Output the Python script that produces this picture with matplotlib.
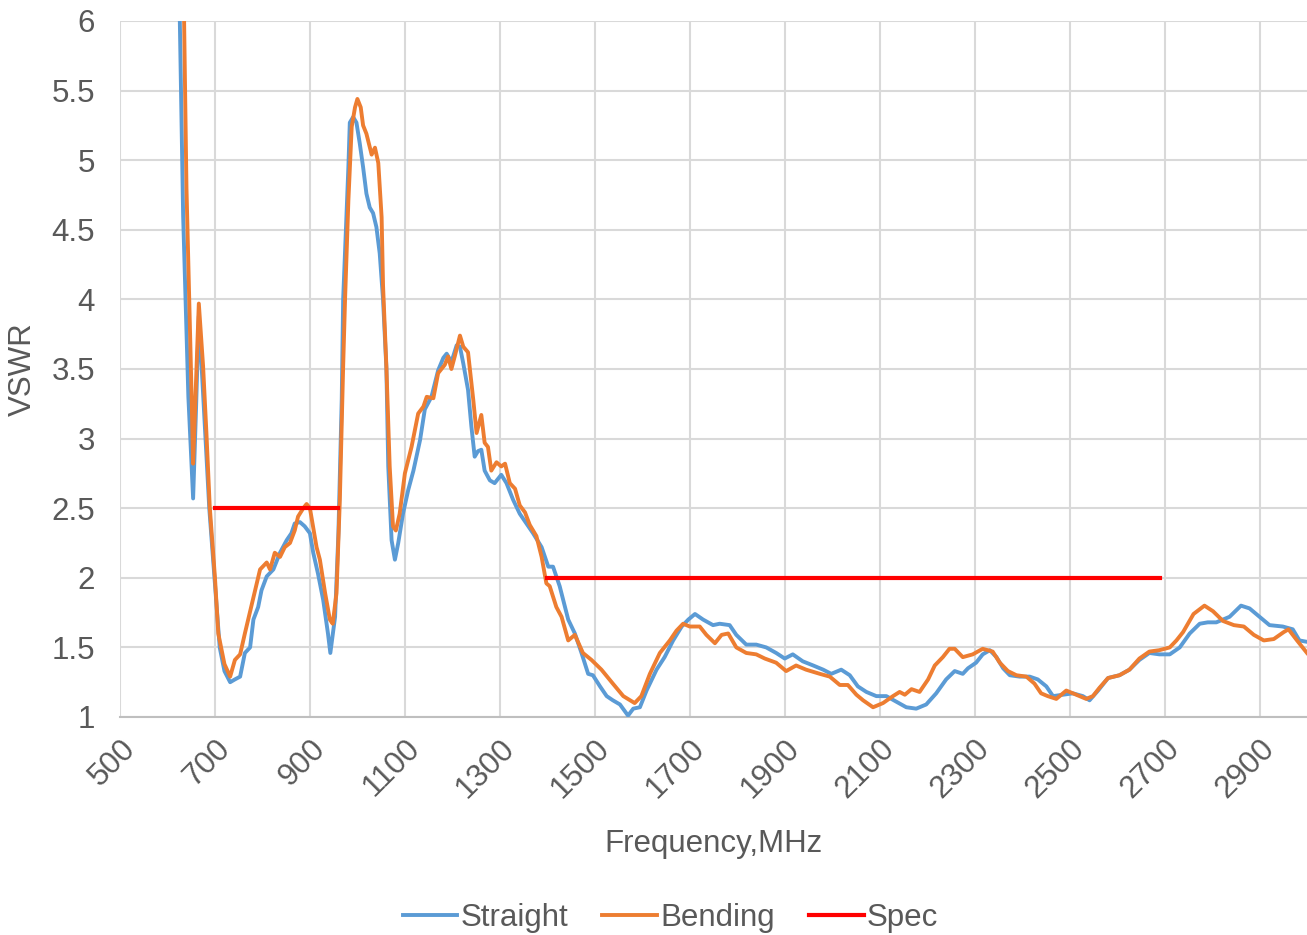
import matplotlib
matplotlib.use("Agg")
import matplotlib.pyplot as plt
import numpy as np

# ---- data ----
straight_f = [615, 626, 633, 644, 654, 660, 666, 673, 680, 688, 700, 710, 720, 732, 742, 753, 763, 774, 781, 791, 798, 809, 823, 837, 851, 861, 868, 879, 889, 900, 907, 917, 928, 938, 943, 953, 960, 967, 970, 981, 984, 991, 998, 1005, 1012, 1019, 1026, 1033, 1040, 1047, 1054, 1061, 1065, 1072, 1079, 1086, 1096, 1107, 1118, 1132, 1142, 1156, 1170, 1181, 1188, 1198, 1209, 1216, 1223, 1233, 1240, 1247, 1254, 1261, 1268, 1279, 1289, 1303, 1314, 1328, 1342, 1356, 1370, 1388, 1402, 1412, 1426, 1444, 1458, 1472, 1486, 1496, 1511, 1525, 1538, 1553, 1570, 1581, 1595, 1609, 1630, 1647, 1665, 1683, 1697, 1711, 1728, 1749, 1763, 1784, 1798, 1819, 1840, 1861, 1882, 1900, 1917, 1938, 1960, 1981, 1998, 2019, 2037, 2054, 2072, 2093, 2114, 2135, 2156, 2177, 2198, 2219, 2240, 2258, 2275, 2286, 2303, 2317, 2332, 2346, 2360, 2374, 2395, 2416, 2433, 2451, 2465, 2486, 2507, 2528, 2542, 2560, 2581, 2605, 2626, 2647, 2668, 2689, 2711, 2732, 2753, 2774, 2791, 2809, 2837, 2861, 2879, 2900, 2921, 2949, 2970, 2984, 3000]
straight_v = [8.0, 6.0, 4.6, 3.3, 2.57, 3.2, 3.88, 3.45, 3.0, 2.5, 1.95, 1.5, 1.33, 1.25, 1.27, 1.29, 1.46, 1.50, 1.70, 1.79, 1.91, 2.01, 2.06, 2.18, 2.27, 2.32, 2.39, 2.40, 2.37, 2.32, 2.18, 2.03, 1.84, 1.60, 1.46, 1.72, 2.32, 3.28, 4.0, 4.95, 5.27, 5.31, 5.27, 5.12, 4.95, 4.76, 4.66, 4.62, 4.52, 4.33, 4.0, 3.51, 2.80, 2.27, 2.13, 2.25, 2.46, 2.63, 2.77, 2.99, 3.21, 3.30, 3.49, 3.58, 3.61, 3.55, 3.67, 3.66, 3.54, 3.35, 3.09, 2.87, 2.91, 2.92, 2.77, 2.70, 2.68, 2.74, 2.68, 2.56, 2.46, 2.39, 2.32, 2.22, 2.08, 2.08, 1.94, 1.70, 1.60, 1.46, 1.31, 1.30, 1.22, 1.15, 1.12, 1.09, 1.01, 1.06, 1.07, 1.19, 1.34, 1.43, 1.55, 1.65, 1.70, 1.74, 1.70, 1.66, 1.67, 1.66, 1.59, 1.52, 1.52, 1.50, 1.46, 1.42, 1.45, 1.40, 1.37, 1.34, 1.31, 1.34, 1.30, 1.22, 1.18, 1.15, 1.15, 1.11, 1.07, 1.06, 1.09, 1.17, 1.27, 1.33, 1.31, 1.35, 1.39, 1.45, 1.48, 1.43, 1.35, 1.30, 1.29, 1.29, 1.27, 1.22, 1.15, 1.16, 1.17, 1.15, 1.12, 1.19, 1.28, 1.30, 1.34, 1.41, 1.46, 1.45, 1.45, 1.50, 1.60, 1.67, 1.68, 1.68, 1.72, 1.80, 1.78, 1.72, 1.66, 1.65, 1.63, 1.55, 1.54]

bending_f = [625, 635, 640, 651, 654, 660, 666, 675, 682, 689, 700, 707, 714, 720, 732, 742, 753, 763, 781, 795, 809, 816, 826, 837, 847, 858, 868, 875, 886, 893, 900, 914, 921, 932, 942, 948, 956, 963, 970, 974, 981, 988, 995, 1000, 1007, 1012, 1019, 1030, 1037, 1044, 1051, 1054, 1061, 1068, 1075, 1081, 1089, 1100, 1114, 1128, 1139, 1146, 1160, 1170, 1184, 1191, 1198, 1205, 1216, 1223, 1233, 1244, 1251, 1261, 1268, 1275, 1282, 1293, 1303, 1311, 1321, 1332, 1342, 1353, 1363, 1377, 1388, 1398, 1405, 1419, 1430, 1444, 1458, 1475, 1493, 1514, 1538, 1560, 1584, 1598, 1616, 1637, 1658, 1672, 1686, 1700, 1721, 1735, 1753, 1767, 1781, 1798, 1819, 1840, 1858, 1882, 1903, 1924, 1945, 1974, 1995, 2016, 2033, 2051, 2065, 2086, 2107, 2128, 2142, 2153, 2167, 2184, 2202, 2216, 2233, 2247, 2258, 2275, 2296, 2317, 2338, 2353, 2370, 2388, 2409, 2426, 2440, 2454, 2472, 2493, 2514, 2535, 2549, 2563, 2581, 2605, 2626, 2647, 2668, 2689, 2711, 2725, 2739, 2761, 2784, 2802, 2823, 2846, 2867, 2888, 2909, 2930, 2951, 2961, 2979, 3000]
bending_v = [8.0, 6.0, 4.8, 3.28, 2.82, 3.4, 3.97, 3.52, 3.04, 2.51, 2.0, 1.60, 1.48, 1.38, 1.29, 1.41, 1.45, 1.60, 1.86, 2.06, 2.11, 2.06, 2.18, 2.15, 2.22, 2.25, 2.34, 2.44, 2.50, 2.53, 2.50, 2.22, 2.13, 1.89, 1.70, 1.67, 1.89, 2.56, 3.52, 4.0, 4.71, 5.24, 5.38, 5.44, 5.38, 5.25, 5.19, 5.04, 5.09, 4.98, 4.59, 4.1, 3.52, 2.80, 2.37, 2.34, 2.46, 2.75, 2.94, 3.18, 3.23, 3.30, 3.29, 3.47, 3.53, 3.59, 3.50, 3.59, 3.74, 3.66, 3.62, 3.28, 3.04, 3.17, 2.97, 2.94, 2.77, 2.83, 2.80, 2.82, 2.68, 2.64, 2.52, 2.47, 2.38, 2.30, 2.15, 1.96, 1.94, 1.79, 1.72, 1.55, 1.59, 1.46, 1.41, 1.34, 1.24, 1.15, 1.10, 1.15, 1.31, 1.46, 1.55, 1.62, 1.67, 1.65, 1.65, 1.59, 1.53, 1.59, 1.60, 1.50, 1.46, 1.45, 1.42, 1.39, 1.33, 1.37, 1.34, 1.31, 1.29, 1.23, 1.23, 1.16, 1.12, 1.07, 1.10, 1.15, 1.18, 1.16, 1.20, 1.18, 1.27, 1.37, 1.43, 1.49, 1.49, 1.43, 1.45, 1.49, 1.47, 1.39, 1.33, 1.30, 1.29, 1.24, 1.17, 1.15, 1.13, 1.19, 1.16, 1.13, 1.15, 1.21, 1.28, 1.30, 1.34, 1.42, 1.47, 1.48, 1.50, 1.55, 1.61, 1.74, 1.80, 1.76, 1.69, 1.66, 1.65, 1.59, 1.55, 1.56, 1.61, 1.63, 1.55, 1.46]

spec_f = [700, 960, np.nan, 1400, 2690]
spec_v = [2.5, 2.5, np.nan, 2.0, 2.0]

x_ticks = [500, 700, 900, 1100, 1300, 1500, 1700, 1900, 2100, 2300, 2500, 2700, 2900]
y_ticks = [1, 1.5, 2, 2.5, 3, 3.5, 4, 4.5, 5, 5.5, 6]
y_tick_labels = ["1", "1.5", "2", "2.5", "3", "3.5", "4", "4.5", "5", "5.5", "6"]

# ---- plot ----
plt.rcParams['font.family'] = ['Liberation Sans', 'DejaVu Sans']
TXT = '#595959'
FS = 22.5

fig = plt.figure(figsize=(13.07, 9.35), dpi=100)
ax = fig.add_axes([120/1307, (935-717)/935, 1187/1307, (717-21)/935])

ax.plot(straight_f, straight_v, color='#5B9BD5', lw=2.8, solid_joinstyle='round', label='Straight', zorder=3)
ax.plot(bending_f, bending_v, color='#ED7D31', lw=2.8, solid_joinstyle='round', label='Bending', zorder=4)
ax.plot(spec_f, spec_v, color='#FF0000', lw=3.0, label='Spec', zorder=5)

ax.set_xlim(500, 3000)
ax.set_ylim(1, 6)
ax.set_xticks(x_ticks)
ax.set_yticks(y_ticks)
ax.set_yticklabels(y_tick_labels)
ax.grid(True, color='#d9d9d9', lw=1.5, zorder=0)
ax.set_axisbelow(True)
for s in ['top', 'right', 'left']:
    ax.spines[s].set_visible(False)
ax.spines['bottom'].set_color('#bfbfbf')
ax.spines['bottom'].set_linewidth(1.5)
ax.tick_params(axis='both', length=0, labelsize=FS, labelcolor=TXT)
ax.tick_params(axis='y', pad=18)
ax.tick_params(axis='x', pad=12)
for lbl in ax.get_xticklabels():
    lbl.set_rotation(45)
    lbl.set_ha('right')
    lbl.set_va('top')
    lbl.set_rotation_mode('anchor')

ax.set_xlabel('Frequency,MHz', fontsize=FS, color=TXT, labelpad=18)
ax.set_ylabel('VSWR', fontsize=FS, color=TXT, va='center')
ax.yaxis.set_label_coords((23 - 120) / 1187, 0.5)

fig.legend(loc='lower center', bbox_to_anchor=(0.513, -0.028), ncol=3, frameon=False,
           fontsize=FS, labelcolor=TXT, handlelength=1.75, handletextpad=0.1, columnspacing=1.1)

fig.savefig('out.png', dpi=100)
